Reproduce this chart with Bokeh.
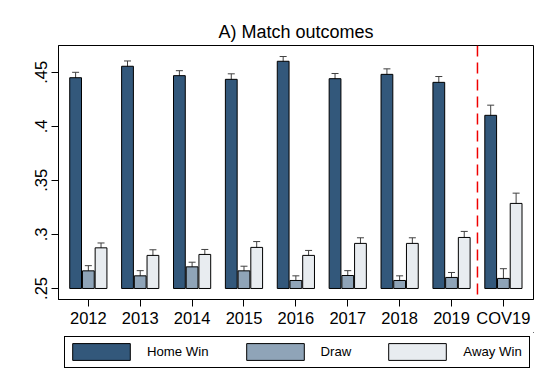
import numpy as np
from bokeh.plotting import figure
from bokeh.layouts import column
from bokeh.models import (ColumnDataSource, Whisker, TeeHead, Span, Legend,
                          LegendItem, FixedTicker, Range1d)
from bokeh.embed import file_html
from bokeh.resources import INLINE

# ---- data ----
years = ["2012", "2013", "2014", "2015", "2016", "2017", "2018", "2019", "COV19"]
home_win = [0.4450, 0.4556, 0.4469, 0.4435, 0.4602, 0.4441, 0.4481, 0.4407, 0.4102]
home_ci = [0.0050, 0.0049, 0.0046, 0.0051, 0.0044, 0.0048, 0.0051, 0.0054, 0.0094]
draw = [0.2663, 0.2617, 0.2700, 0.2663, 0.2574, 0.2620, 0.2574, 0.2602, 0.2593]
draw_ci = [0.0048, 0.0048, 0.0043, 0.0043, 0.0043, 0.0045, 0.0043, 0.0046, 0.0090]
away_win = [0.2876, 0.2806, 0.2815, 0.2880, 0.2806, 0.2917, 0.2917, 0.2972, 0.3287]
away_ci = [0.0045, 0.0052, 0.0046, 0.0054, 0.0046, 0.0052, 0.0052, 0.0056, 0.0095]
series_names = ["Home Win", "Draw", "Away Win"]
ytick_values = [0.25, 0.30, 0.35, 0.40, 0.45]
ytick_labels = [".25", ".3", ".35", ".4", ".45"]
covid_break = 7.5
baseline = 0.25

# ---- style ----
FONT = "Liberation Sans"
colors = ["#33587b", "#8fa4b8", "#e8ecf0"]
err_color = "#404040"
offsets = [-0.245, 0.0, 0.245]
bar_width = 0.227

p = figure(width=549, height=332, output_backend="svg", toolbar_location=None,
           x_range=Range1d(-0.575, 8.58), y_range=Range1d(0.2398, 0.4748),
           min_border_left=58, min_border_right=16, min_border_top=45,
           min_border_bottom=33, background_fill_color="white",
           border_fill_color="white")

p.title.text = "A) Match outcomes"
p.title.align = "center"
p.title.text_font = FONT
p.title.text_font_size = "18px"
p.title.text_font_style = "normal"
p.title.text_color = "black"
p.title.standoff = 7

idx = np.arange(len(years))
for vals, cis, off, col in zip([home_win, draw, away_win],
                               [home_ci, draw_ci, away_ci], offsets, colors):
    v = np.array(vals)
    c = np.array(cis)
    src = ColumnDataSource(dict(x=idx + off, top=v, lower=v - c, upper=v + c))
    p.vbar(x="x", top="top", bottom=baseline, width=bar_width, source=src,
           fill_color=col, line_color="black", line_width=1)
    w = Whisker(source=src, base="x", upper="upper", lower="lower",
                line_color=err_color, line_width=1,
                upper_head=TeeHead(size=7, line_color=err_color, line_width=1),
                lower_head=TeeHead(size=7, line_color=err_color, line_width=1))
    p.add_layout(w)

p.add_layout(Span(location=covid_break, dimension="height", line_color="#f00000",
                  line_dash="11 6", line_width=1.5))

p.xgrid.grid_line_color = None
p.ygrid.grid_line_color = None
p.outline_line_color = "black"
p.outline_line_width = 1
p.outline_line_alpha = 1

p.xaxis.ticker = FixedTicker(ticks=[int(i) for i in idx])
p.xaxis.major_label_overrides = {int(i): y for i, y in zip(idx, years)}
p.yaxis.ticker = FixedTicker(ticks=ytick_values)
p.yaxis.major_label_overrides = dict(zip(ytick_values, ytick_labels))
p.yaxis.major_label_orientation = "vertical"

for ax in (p.xaxis, p.yaxis):
    ax.major_tick_out = 7
    ax.major_tick_in = 0
    ax.minor_tick_line_color = None
    ax.axis_line_color = "black"
    ax.major_tick_line_color = "black"
    ax.major_label_text_font = FONT
    ax.major_label_text_font_size = "16.5px"
    ax.major_label_text_color = "black"
p.xaxis.major_label_standoff = 2
p.yaxis.major_label_standoff = 4

# ---- legend strip (separate figure below the chart) ----
lg = figure(width=549, height=52, output_backend="svg", toolbar_location=None,
            x_axis_type=None, y_axis_type=None,
            x_range=Range1d(0, 1), y_range=Range1d(0, 1),
            min_border_left=0, min_border_right=0, min_border_top=0,
            min_border_bottom=0, outline_line_color=None,
            background_fill_color="white", border_fill_color="white")
# off-range proxy glyphs so that the legend can draw its swatches
legend_renderers = [lg.vbar(x=[10], top=[10], bottom=[9], width=0.1,
                            fill_color=col, line_color="black", line_width=1)
                    for col in colors]
legend = Legend(items=[LegendItem(label=n, renderers=[r])
                       for n, r in zip(series_names, legend_renderers)],
                orientation="horizontal", location=(6, 16),
                glyph_width=72, glyph_height=21, label_height=21,
                label_standoff=10, spacing=30,
                padding=dict(left=0, right=7, top=4, bottom=5), margin=0,
                border_line_color="black", border_line_width=1,
                border_line_alpha=1, background_fill_color="white",
                background_fill_alpha=1,
                label_text_font=FONT, label_text_font_size="13.2px",
                label_text_color="black")
lg.add_layout(legend, "center")

layout = column(p, lg, spacing=0)
open("out.html", "w").write(file_html(layout, INLINE))
